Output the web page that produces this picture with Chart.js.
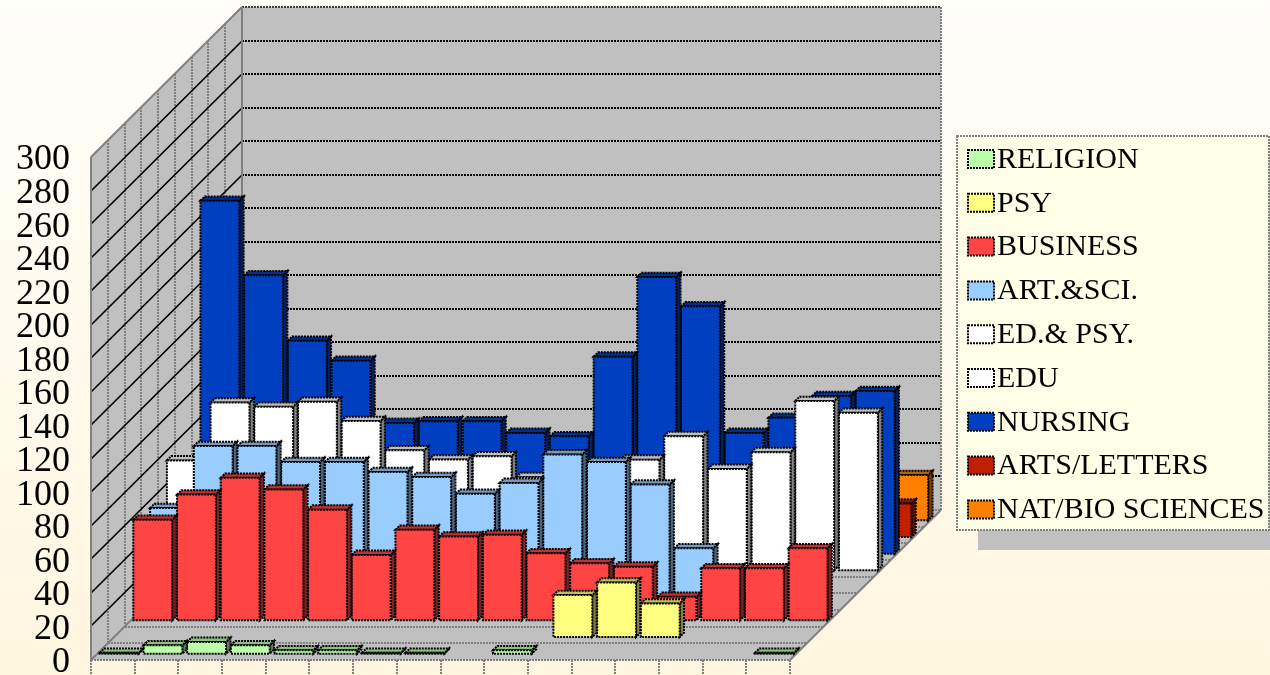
<!DOCTYPE html>
<html>
<head>
<meta charset="utf-8">
<title>Chart</title>
<script src="https://cdn.jsdelivr.net/npm/chart.js@4"></script>
<style>
html,body{margin:0;padding:0;width:1270px;height:675px;overflow:hidden;
background:linear-gradient(180deg,#fffefa 0%,#fff6df 100%);}
canvas{display:block;}
</style>
</head>
<body>
<canvas id="graph" width="1270" height="675"></canvas>
<script>

// values, front row first
const categories=["1","2","3","4","5","6","7","8","9","10","11","12","13","14","15","16"];
const seriesNames=["RELIGION","PSY","BUSINESS","ART.&SCI.","ED.& PSY.","EDU","NURSING","ARTS/LETTERS","NAT/BIO SCIENCES"];
const seriesColors=["#bbffaa","#ffff80","#ff4444","#99ccff","#ffffff","#ffffff","#0040c0","#c02000","#ff8000"];

const religion=[0.5,5,7,5,2,2,0.5,0.5,null,2,null,null,null,null,null,0.5];
const psy=[null,null,null,null,null,null,null,null,null,null,25,32.5,20,null,null,null];
const business=[60,75,85,78,66,39,54,50,51,40,34,32,14,31,31,43];
const artSci=[57,94,94,84.5,84.5,78.5,75.5,65.5,72,89,84.5,71,33,null,null,null];
const edPsy=[75.5,110,107.5,110.5,99,81.5,76,78,65.5,null,null,null,null,null,null,null];
const edu=[null,null,null,null,null,null,null,null,null,null,66,80,60.5,70.5,101,94];
const nursing=[210.5,166,127,115,78,79,79,72,70,117.5,165,147.5,72,81,94,97];
const artsLetters=[null,null,null,null,null,null,null,null,null,null,null,null,null,null,null,20];
const natBio=[null,null,null,null,null,null,null,null,null,null,null,null,null,null,null,27];
const seriesValues=[religion,psy,business,artSci,edPsy,edu,nursing,artsLetters,natBio];

const yMax=300;
const yStep=20;

// fake 3d, all offsets go through these
const depthX=151;
const depthY=150;
const slots=seriesNames.length;
const slotX=depthX/slots;
const slotY=depthY/slots;
const barFront=0.38;
const barDepth=0.26;

const dotted=[2,1];
const serif="'Liberation Serif'";

function shade(hex,f){
let n=parseInt(hex.slice(1),16);
let r=Math.round((n>>16&255)*f);
let g=Math.round((n>>8&255)*f);
let b=Math.round((n&255)*f);
return `rgb(${r},${g},${b})`;
}

function line(ctx,x1,y1,x2,y2,color,width,dash){
ctx.beginPath();
ctx.setLineDash(dash||[]);
ctx.strokeStyle=color;
ctx.lineWidth=width;
ctx.moveTo(x1,y1);
ctx.lineTo(x2,y2);
ctx.stroke();
ctx.setLineDash([]);
}

function face(ctx,pts,fill){
ctx.beginPath();
ctx.moveTo(pts[0][0],pts[0][1]);
for(let i=1;i<pts.length;i++){
ctx.lineTo(pts[i][0],pts[i][1]);
}
ctx.closePath();
ctx.fillStyle=fill;
ctx.fill();
ctx.setLineDash(dotted);
ctx.strokeStyle="#000";
ctx.lineWidth=2;
ctx.stroke();
ctx.setLineDash([]);
}

function drawWalls(chart){
const ctx=chart.ctx;
const xs=chart.scales.x;
const ys=chart.scales.y;
const l=xs.left, r=xs.right;
const y0=ys.getPixelForValue(0);
const yTop=ys.getPixelForValue(yMax);

ctx.fillStyle="#c0c0c0";
ctx.fillRect(l+depthX,yTop-depthY,r-l,y0-yTop);

ctx.beginPath();
ctx.moveTo(l,y0);
ctx.lineTo(l,yTop);
ctx.lineTo(l+depthX,yTop-depthY);
ctx.lineTo(l+depthX,y0-depthY);
ctx.lineTo(r+depthX,y0-depthY);
ctx.lineTo(r,y0);
ctx.closePath();
ctx.fill();

// side wall columns, floor rows
for(let k=1;k<slots;k++){
let fx=Math.round(l+k*slotX);
let fy=Math.round(y0-k*slotY);
line(ctx,fx,fy,fx,Math.round(yTop-k*slotY),"#808080",2,dotted);
line(ctx,fx,fy,Math.round(r+k*slotX),fy,"#808080",2,dotted);
}

// value lines on both walls
ys.ticks.forEach(t=>{
let y=Math.round(ys.getPixelForValue(t.value));
if(t.value>0 && t.value<yMax){
line(ctx,l,y,l+depthX,y-depthY,"#000",1.7);
}
if(t.value>0){
line(ctx,l+depthX,y-depthY,r+depthX,y-depthY,t.value===yMax?"#404040":"#000",2,dotted);
}
});

line(ctx,l,y0,l,yTop,"#808080",2);
line(ctx,l,yTop,l+depthX,yTop-depthY,"#808080",2);
line(ctx,l+depthX,yTop-depthY,l+depthX,y0-depthY,"#808080",2);
line(ctx,r+depthX,yTop-depthY,r+depthX,y0-depthY,"#808080",2,dotted);
line(ctx,l,y0,l+depthX,y0-depthY,"#808080",2);
line(ctx,r,y0,r+depthX,y0-depthY,"#808080",2);
line(ctx,l+depthX,y0-depthY,r+depthX,y0-depthY,"#808080",2,dotted);
line(ctx,l,y0,r,y0,"#808080",2,dotted);
}

function drawLegend(chart){
const ctx=chart.ctx;
const left=957,top=136,w=312,h=394;

ctx.fillStyle="#c0c0c0";
ctx.fillRect(left+21,top+20,w,h);
ctx.fillStyle="#ffffe8";
ctx.fillRect(left,top,w,h);
ctx.setLineDash(dotted);
ctx.strokeStyle="#808080";
ctx.lineWidth=2;
ctx.strokeRect(left,top,w,h);
ctx.setLineDash([]);

ctx.font="30px "+serif;
ctx.textBaseline="middle";
ctx.textAlign="left";
chart.data.datasets.forEach((ds,i)=>{
let y=top+23+i*43.8;
ctx.fillStyle=ds.backgroundColor;
ctx.fillRect(left+11,y-9,26,18);
ctx.setLineDash(dotted);
ctx.strokeStyle="#000";
ctx.lineWidth=2;
ctx.strokeRect(left+11,y-9,26,18);
ctx.setLineDash([]);
ctx.fillStyle="#000";
ctx.fillText(ds.label,left+40,y+1);
});
}

function drawBars(chart){
const ctx=chart.ctx;
for(let s=slots-1;s>=0;s--){
const meta=chart.getDatasetMeta(s);
const color=chart.data.datasets[s].backgroundColor;
const ox=(s+barFront)*slotX;
const oy=(s+barFront)*slotY;
const bx=barDepth*slotX;
const by=barDepth*slotY;
for(let j=meta.data.length-1;j>=0;j--){
if(seriesValues[s][j]===null) continue;
const el=meta.data[j];
const x1=el.x-el.width/2+ox;
const x2=el.x+el.width/2+ox;
const yt=el.y-oy;
const yb=el.base-oy;
face(ctx,[[x2,yt],[x2+bx,yt-by],[x2+bx,yb-by],[x2,yb]],shade(color,0.5));
face(ctx,[[x1,yt],[x1+bx,yt-by],[x2+bx,yt-by],[x2,yt]],shade(color,0.75));
face(ctx,[[x1,yt],[x2,yt],[x2,yb],[x1,yb]],color);
}
}
}

const fake3d={
id:"fake3d",
beforeDraw(chart){
drawWalls(chart);
drawLegend(chart);
},
beforeDatasetsDraw(chart){
drawBars(chart);
return false;
}
};

new Chart(document.getElementById("graph"),{
type:"bar",
data:{
labels:categories,
datasets:seriesNames.map((name,i)=>({
label:name,
data:seriesValues[i],
backgroundColor:seriesColors[i]
}))
},
plugins:[fake3d],
options:{
responsive:false,
animation:false,
layout:{padding:{top:157,right:480,bottom:0,left:0}},
datasets:{bar:{grouped:false,categoryPercentage:1,barPercentage:0.89}},
plugins:{legend:{display:false},tooltip:{enabled:false}},
scales:{
x:{
offset:true,
afterFit:s=>{s.height=15;},
border:{display:false},
ticks:{display:false},
grid:{offset:true,drawOnChartArea:false,tickLength:15,color:"#808080",lineWidth:2,tickBorderDash:dotted}
},
y:{
min:0,
max:yMax,
afterFit:s=>{
s.width=91;
s.paddingTop=0;
s.paddingBottom=0;
// the serif digits sit high on a middle baseline, push them down a bit
if(!s.shifted){
const orig=s.drawLabels;
s.drawLabels=function(area){
this.ctx.save();
this.ctx.translate(0,3);
orig.call(this,area);
this.ctx.restore();
};
s.shifted=true;
}
},
border:{display:false},
grid:{display:false},
ticks:{
stepSize:yStep,
autoSkip:false,
padding:13,
color:"#000",
font:{family:serif,size:36}
}
}
}
}
});

</script>
</body>
</html>
